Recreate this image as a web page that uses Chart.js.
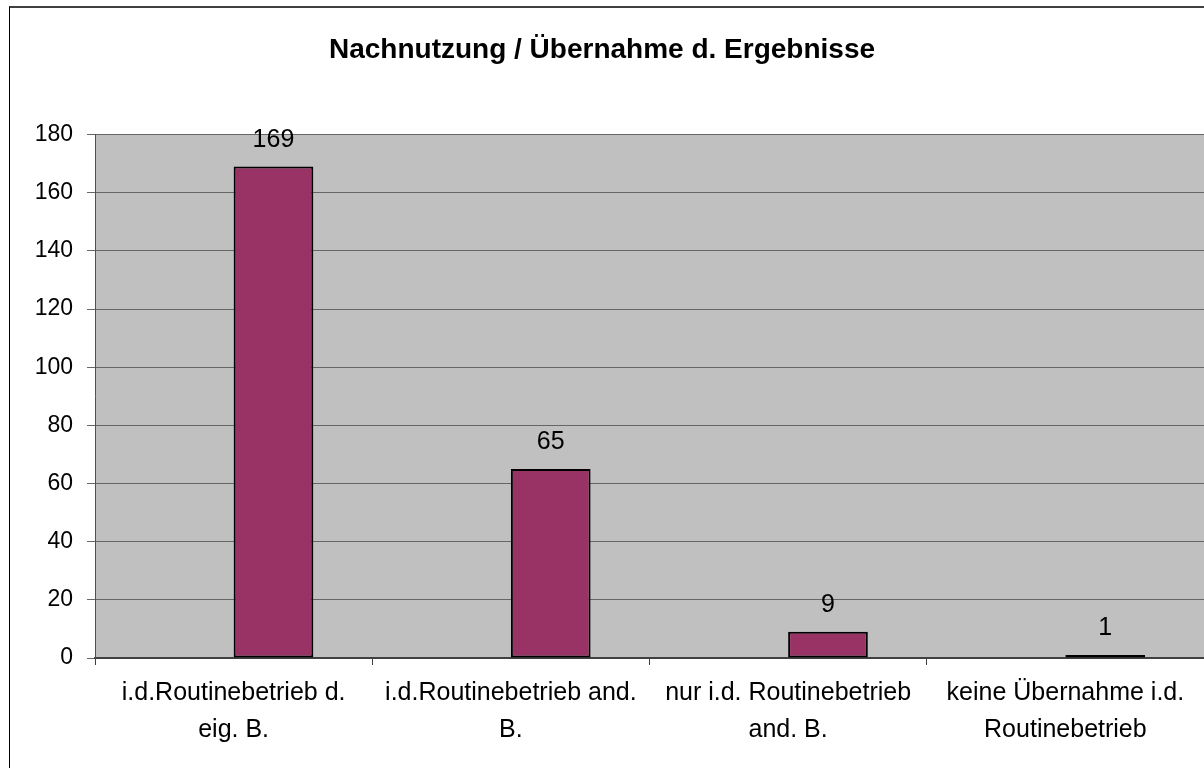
<!DOCTYPE html>
<html lang="de">
<head>
  <meta charset="UTF-8" />
  <title>Nachnutzung / Übernahme d. Ergebnisse</title>
  <script src="https://cdn.jsdelivr.net/npm/chart.js"></script>
  <style>
    body { margin: 0; background: #fff; overflow: hidden; font-family: 'Liberation Sans', Arial, sans-serif; }
    #frame { position: absolute; left: 9px; top: 6px; width: 1400px; height: 900px;
             border-left: 1px solid #000; border-top: 2px solid #404040; }
    #wrap { position: absolute; left: 0; top: 0; width: 1204px; height: 768px; }
  </style>
</head>
<body>
  <div id="frame"></div>
  <div id="wrap"><canvas id="chart"></canvas></div>

  <script>
    const categories = [
      ['i.d.Routinebetrieb d.', 'eig. B.'],
      ['i.d.Routinebetrieb and.', 'B.'],
      ['nur i.d. Routinebetrieb', 'and. B.'],
      ['keine Übernahme i.d.', 'Routinebetrieb']
    ];
    const values = [169, 65, 9, 1];
    // Excel chart had an empty first series, so the bars sit right of the category centre
    const emptySeries = [null, null, null, null];
    const yTicks = { min: 0, max: 180, step: 20 };

    const fontFamily = "'Liberation Sans', Arial, sans-serif";

    // grey plot area
    const plotBackground = {
      id: 'plotBackground',
      beforeDraw(chart) {
        const { ctx, chartArea: a } = chart;
        ctx.save();
        ctx.fillStyle = '#c0c0c0';
        ctx.fillRect(a.left, a.top, a.right - a.left, a.bottom - a.top);
        ctx.restore();
      }
    };

    // value labels above the bars
    const valueLabels = {
      id: 'valueLabels',
      afterDatasetsDraw(chart) {
        const ctx = chart.ctx;
        const meta = chart.getDatasetMeta(1);
        ctx.save();
        ctx.font = `25px ${fontFamily}`;
        ctx.fillStyle = '#000';
        ctx.textAlign = 'center';
        ctx.textBaseline = 'alphabetic';
        meta.data.forEach((bar, i) => {
          ctx.fillText(String(values[i]), bar.x, bar.y - 20);
        });
        ctx.restore();
      }
    };

    new Chart(document.getElementById('chart'), {
      type: 'bar',
      data: {
        labels: categories,
        datasets: [
          { label: 'leer', data: emptySeries },
          {
            label: 'Nachnutzung',
            data: values,
            backgroundColor: '#993366',
            borderColor: '#000',
            borderWidth: 2,
            borderSkipped: false
          }
        ]
      },
      options: {
        responsive: true,
        maintainAspectRatio: false,
        animation: false,
        categoryPercentage: 0.575,
        barPercentage: 1,
        layout: { padding: 0 },
        plugins: {
          legend: { display: false },
          tooltip: { enabled: false },
          title: {
            display: true,
            text: 'Nachnutzung / Übernahme d. Ergebnisse',
            color: '#000',
            font: { family: fontFamily, size: 28, weight: 'bold', lineHeight: 1.2 },
            padding: { top: 33, bottom: 68 }
          }
        },
        scales: {
          x: {
            afterFit(scale) { scale.height = 110; },
            grid: { offset: true, drawOnChartArea: false, drawTicks: true, tickLength: 7, color: '#404040' },
            border: { color: '#404040', width: 2 },
            ticks: {
              color: '#000',
              padding: 10,
              maxRotation: 0,
              font: { family: fontFamily, size: 25, lineHeight: 1.48 }
            }
          },
          y: {
            min: yTicks.min,
            max: yTicks.max,
            afterFit(scale) { scale.width = 95; },
            grid: { color: '#666666', tickLength: 8 },
            border: { color: '#505050', width: 1 },
            ticks: {
              stepSize: yTicks.step,
              color: '#000',
              padding: 14,
              font: { family: fontFamily, size: 23 }
            }
          }
        }
      },
      plugins: [plotBackground, valueLabels]
    });
  </script>
</body>
</html>
